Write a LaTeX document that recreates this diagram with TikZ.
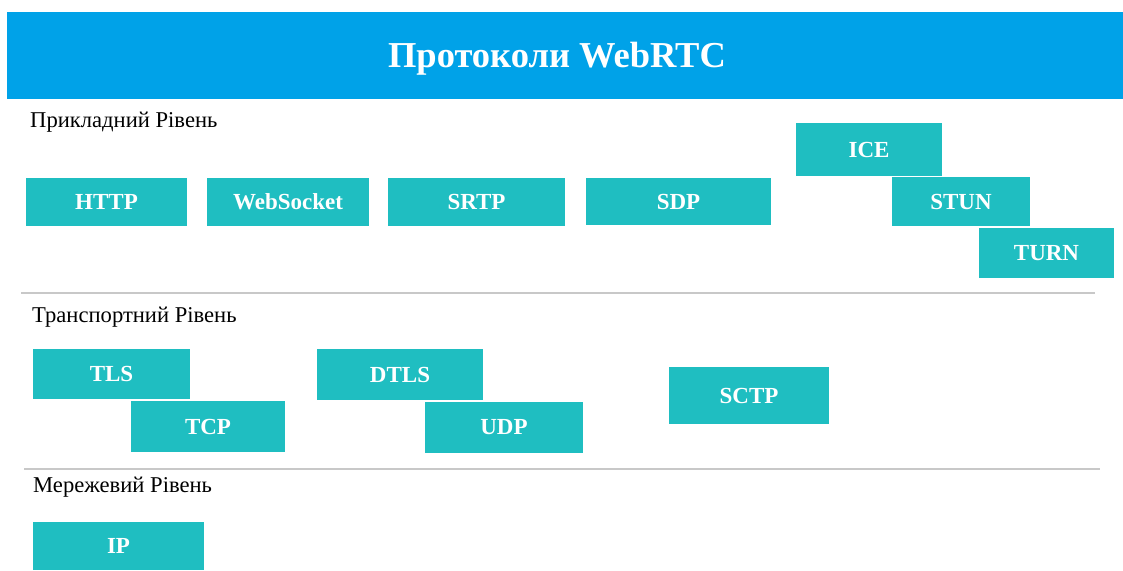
\documentclass[tikz,border=0pt]{standalone}
\usepackage{fontspec}
\setmainfont{Liberation Serif}
\definecolor{bannerblue}{RGB}{0,162,232}
\definecolor{tealbox}{RGB}{31,190,193}
\definecolor{rulegray}{RGB}{200,200,200}
\tikzset{
  protobox/.style={fill=tealbox, draw=none, inner sep=0pt, text=white,
    font=\fontsize{23}{23}\selectfont\bfseries},
  sectlabel/.style={anchor=base west, inner sep=0pt, text=black,
    font=\fontsize{22.6}{22.6}\selectfont},
  sectrule/.style={draw=rulegray, line width=2pt}
}
\newcommand{\pbox}[6]{%
  \node[protobox, minimum width={(#4-#2)*1pt}, minimum height={(#5-#3)*1pt}]
    (#1) at ({(#2+#4)/2},{(#3+#5)/2}) {#6};}
\begin{document}
\begin{tikzpicture}[x=1pt,y=-1pt]
\useasboundingbox (0,0) rectangle (1123,570);
\fill[white] (0,0) rectangle (1123,570);
% banner
\fill[bannerblue] (7,12) rectangle (1123,99);
\node[anchor=base, inner sep=0pt, text=white, font=\fontsize{36.5}{36.5}\selectfont\bfseries]
  (title) at (557,67) {Протоколи WebRTC};
% section labels
\node[sectlabel] (app) at (30,127) {Прикладний Рівень};
\node[sectlabel] (trans) at (32,322) {Транспортний Рівень};
\node[sectlabel] (net) at (33,492) {Мережевий Рівень};
% rules
\coordinate (r1a) at (21,293); \coordinate (r1b) at (1095,293);
\coordinate (r2a) at (24,469); \coordinate (r2b) at (1100,469);
\draw[sectrule] (r1a) -- (r1b);
\draw[sectrule] (r2a) -- (r2b);
% application layer
\pbox{http}{26}{178}{187}{226}{HTTP}
\pbox{ws}{207}{178}{369}{226}{WebSocket}
\pbox{srtp}{388}{178}{565}{226}{SRTP}
\pbox{sdp}{586}{178}{771}{225}{SDP}
\pbox{ice}{796}{123}{942}{176}{ICE}
\pbox{stun}{892}{177}{1030}{226}{STUN}
\pbox{turn}{979}{228}{1114}{278}{TURN}
% transport layer
\pbox{tls}{33}{349}{190}{399}{TLS}
\pbox{tcp}{131}{401}{285}{452}{TCP}
\pbox{dtls}{317}{349}{483}{400}{DTLS}
\pbox{udp}{425}{402}{583}{453}{UDP}
\pbox{sctp}{669}{367}{829}{424}{SCTP}
% network layer
\pbox{ip}{33}{522}{204}{570}{IP}
\end{tikzpicture}
\end{document}
